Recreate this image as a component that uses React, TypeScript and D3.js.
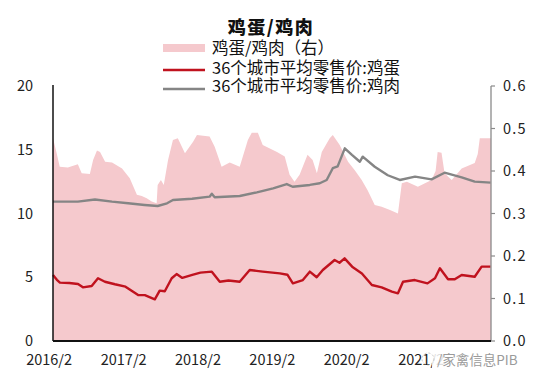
import React from "react";
import * as d3 from "d3";

const title = "鸡蛋/鸡肉";
const legendLabels = ["鸡蛋/鸡肉（右）", "36个城市平均零售价:鸡蛋", "36个城市平均零售价:鸡肉"];

const xTickDates = ["2016-02-01", "2017-02-01", "2018-02-01", "2019-02-01", "2020-02-01", "2021-02-01"];
const xTickLabels = ["2016/2", "2017/2", "2018/2", "2019/2", "2020/2", "2021/2"];
const leftTicks = [0, 5, 10, 15, 20];
const rightTicks = [0, 0.1, 0.2, 0.3, 0.4, 0.5, 0.6];

const eggDates = ["2016-02-20","2016-03-10","2016-03-25","2016-05-10","2016-06-22","2016-07-16","2016-08-28","2016-09-28","2016-11-01","2016-12-20","2017-02-10","2017-04-13","2017-05-16","2017-07-04","2017-07-28","2017-08-22","2017-09-25","2017-10-19","2017-11-16","2018-01-04","2018-02-13","2018-04-10","2018-05-19","2018-07-01","2018-08-25","2018-10-13","2018-11-16","2018-12-16","2019-03-10","2019-04-16","2019-05-13","2019-07-01","2019-08-04","2019-09-07","2019-10-07","2019-12-04","2019-12-28","2020-01-22","2020-02-28","2020-04-16","2020-06-04","2020-07-22","2020-09-10","2020-10-10","2020-11-04","2021-01-01","2021-03-04","2021-04-10","2021-05-04","2021-06-13","2021-07-16","2021-08-19","2021-10-22","2021-11-25","2022-01-08"];
const eggPrice = [5.18,4.8,4.58,4.55,4.47,4.21,4.31,4.92,4.65,4.45,4.26,3.6,3.6,3.27,3.95,3.9,4.92,5.25,4.95,5.18,5.36,5.44,4.65,4.75,4.65,5.57,5.5,5.44,5.3,5.2,4.52,4.78,5.44,5.0,5.57,6.35,6.14,6.48,5.83,5.3,4.39,4.21,3.87,3.74,4.65,4.78,4.52,4.92,5.7,4.84,4.84,5.18,5.04,5.83,5.83];

const chickenDates = ["2016-02-20","2016-06-21","2016-09-13","2016-12-06","2017-02-23","2017-05-15","2017-07-18","2017-09-02","2017-10-01","2018-01-03","2018-03-30","2018-04-10","2018-04-24","2018-08-25","2018-11-17","2019-02-05","2019-04-13","2019-05-12","2019-08-04","2019-09-22","2019-10-26","2019-11-25","2019-12-19","2020-01-23","2020-02-27","2020-04-06","2020-04-20","2020-06-18","2020-08-21","2020-10-19","2021-01-02","2021-03-24","2021-05-27","2021-08-19","2021-10-22","2022-01-08"];
const chickenPrice = [10.93,10.93,11.1,10.93,10.8,10.67,10.59,10.8,11.06,11.16,11.32,11.55,11.28,11.37,11.66,11.97,12.31,12.1,12.24,12.37,12.63,13.55,13.7,15.11,14.6,14.06,14.46,13.67,13.0,12.63,12.89,12.68,13.2,12.84,12.5,12.42];

const ratioDates = ["2016-02-20","2016-03-09","2016-03-24","2016-05-03","2016-06-21","2016-07-10","2016-08-19","2016-09-04","2016-09-23","2016-10-08","2016-11-02","2016-12-06","2017-01-24","2017-03-03","2017-04-07","2017-05-01","2017-05-25","2017-06-19","2017-07-13","2017-07-18","2017-08-03","2017-08-17","2017-09-07","2017-10-01","2017-10-25","2017-11-29","2018-01-08","2018-01-27","2018-03-30","2018-04-24","2018-05-28","2018-07-07","2018-08-25","2018-10-04","2018-10-23","2018-11-22","2018-12-16","2019-02-24","2019-04-03","2019-04-27","2019-05-21","2019-06-15","2019-07-24","2019-08-18","2019-09-08","2019-10-02","2019-11-10","2019-11-25","2019-12-29","2020-02-08","2020-03-12","2020-04-15","2020-05-14","2020-06-18","2020-07-22","2020-09-01","2020-10-10","2020-10-29","2020-11-23","2021-01-16","2021-03-24","2021-04-13","2021-04-23","2021-05-12","2021-05-27","2021-07-01","2021-08-19","2021-10-22","2021-11-06","2021-11-16","2022-01-10"];
const ratioValues = [0.477,0.442,0.41,0.408,0.416,0.395,0.393,0.426,0.448,0.445,0.422,0.42,0.406,0.383,0.344,0.341,0.336,0.328,0.324,0.367,0.379,0.367,0.426,0.473,0.477,0.442,0.469,0.485,0.481,0.457,0.41,0.42,0.41,0.473,0.49,0.49,0.461,0.445,0.434,0.391,0.375,0.391,0.438,0.426,0.395,0.445,0.477,0.485,0.461,0.422,0.402,0.379,0.355,0.32,0.316,0.308,0.3,0.371,0.375,0.363,0.379,0.4,0.445,0.443,0.395,0.379,0.406,0.419,0.44,0.477,0.477];

const W = 552, H = 386;
const M = { left: 53, right: 491, top: 86, bottom: 341 };
const PINK = "#f5c9cd";
const RED = "#c0121e";
const GRAY = "#858585";
const FONT = "'Noto Sans CJK SC', 'Noto Sans', sans-serif";

const parse = d3.timeParse("%Y-%m-%d");

export default function App() {
  const x = d3.scaleTime()
    .domain([parse("2016-02-20")!, parse("2022-01-10")!])
    .range([M.left, M.right]);
  const yL = d3.scaleLinear().domain([0, 20]).range([M.bottom, M.top]);
  const yR = d3.scaleLinear().domain([0, 0.6]).range([M.bottom, M.top]);

  const ratio = ratioDates.map((d, i) => ({ d: parse(d)!, v: ratioValues[i] }));
  const egg = eggDates.map((d, i) => ({ d: parse(d)!, v: eggPrice[i] }));
  const chicken = chickenDates.map((d, i) => ({ d: parse(d)!, v: chickenPrice[i] }));

  const areaGen = d3.area<{ d: Date; v: number }>()
    .x(p => x(p.d)).y0(yR(0)).y1(p => yR(p.v));
  const lineL = d3.line<{ d: Date; v: number }>()
    .x(p => x(p.d)).y(p => yL(p.v));

  const fmtR = d3.format(".1f");

  return (
    <svg width={W} height={H} style={{ position: "absolute", left: 0, top: 0, background: "#fff" }} fontFamily={FONT}>
      <rect x={0} y={0} width={W} height={H} fill="#fff" />
      {/* area */}
      <path d={areaGen(ratio) || ""} fill={PINK} stroke="none" />
      {/* lines */}
      <path d={lineL(chicken) || ""} fill="none" stroke={GRAY} strokeWidth={2.4} strokeLinejoin="round" />
      <path d={lineL(egg) || ""} fill="none" stroke={RED} strokeWidth={2.4} strokeLinejoin="round" />

      {/* left axis */}
      <line x1={M.left} x2={M.left} y1={M.top - 1} y2={M.bottom} stroke="#111" strokeWidth={1.5} />
      {leftTicks.map(t => (
        <text key={"l" + t} x={33} y={yL(t)} dy="0.35em" textAnchor="end" fontSize={14.5} fill="#222">{t}</text>
      ))}
      {/* right axis */}
      <line x1={M.right} x2={M.right} y1={M.top} y2={M.bottom} stroke="#8a8a8a" strokeWidth={1.3} />
      {rightTicks.map(t => (
        <g key={"r" + t}>
          <line x1={M.right} x2={M.right + 4} y1={yR(t)} y2={yR(t)} stroke="#8a8a8a" strokeWidth={1.2} />
          <text x={503} y={yR(t)} dy="0.35em" fontSize={14.5} fill="#222" letterSpacing={1.2}>{fmtR(t)}</text>
        </g>
      ))}
      {/* bottom axis */}
      <line x1={M.left} x2={M.right} y1={M.bottom} y2={M.bottom} stroke="#111" strokeWidth={2} />
      {xTickDates.map((d, i) => (
        <text key={d} x={x(parse(d)!)} y={365} textAnchor="middle" fontSize={14.5} fill="#222">{xTickLabels[i]}</text>
      ))}
      {/* watermark */}
      <rect x={432} y={350} width={76} height={20} fill="#fff" opacity={0.85} />
      <circle cx={428} cy={359} r={6} fill="none" stroke="#c8c8c8" strokeWidth={1} strokeDasharray="2 2" />
      <text x={437} y={365} fontSize={13.5} fill="#9a9a9a">/家禽信息PIB</text>

      {/* title */}
      <text x={271} y={34} textAnchor="middle" fontSize={18} fontWeight={900} letterSpacing={1.5} fill="#111">{title}</text>
      {/* legend */}
      <rect x={163} y={44} width={42} height={8} fill={PINK} />
      <text x={212} y={54} fontSize={16.5} fill="#111">{legendLabels[0]}</text>
      <line x1={163} x2={205} y1={70} y2={70} stroke={RED} strokeWidth={2.4} />
      <text x={212} y={74} fontSize={16.5} fill="#111">{legendLabels[1]}</text>
      <line x1={163} x2={205} y1={89} y2={89} stroke={GRAY} strokeWidth={2.4} />
      <text x={212} y={92} fontSize={16.5} fill="#111">{legendLabels[2]}</text>
    </svg>
  );
}
